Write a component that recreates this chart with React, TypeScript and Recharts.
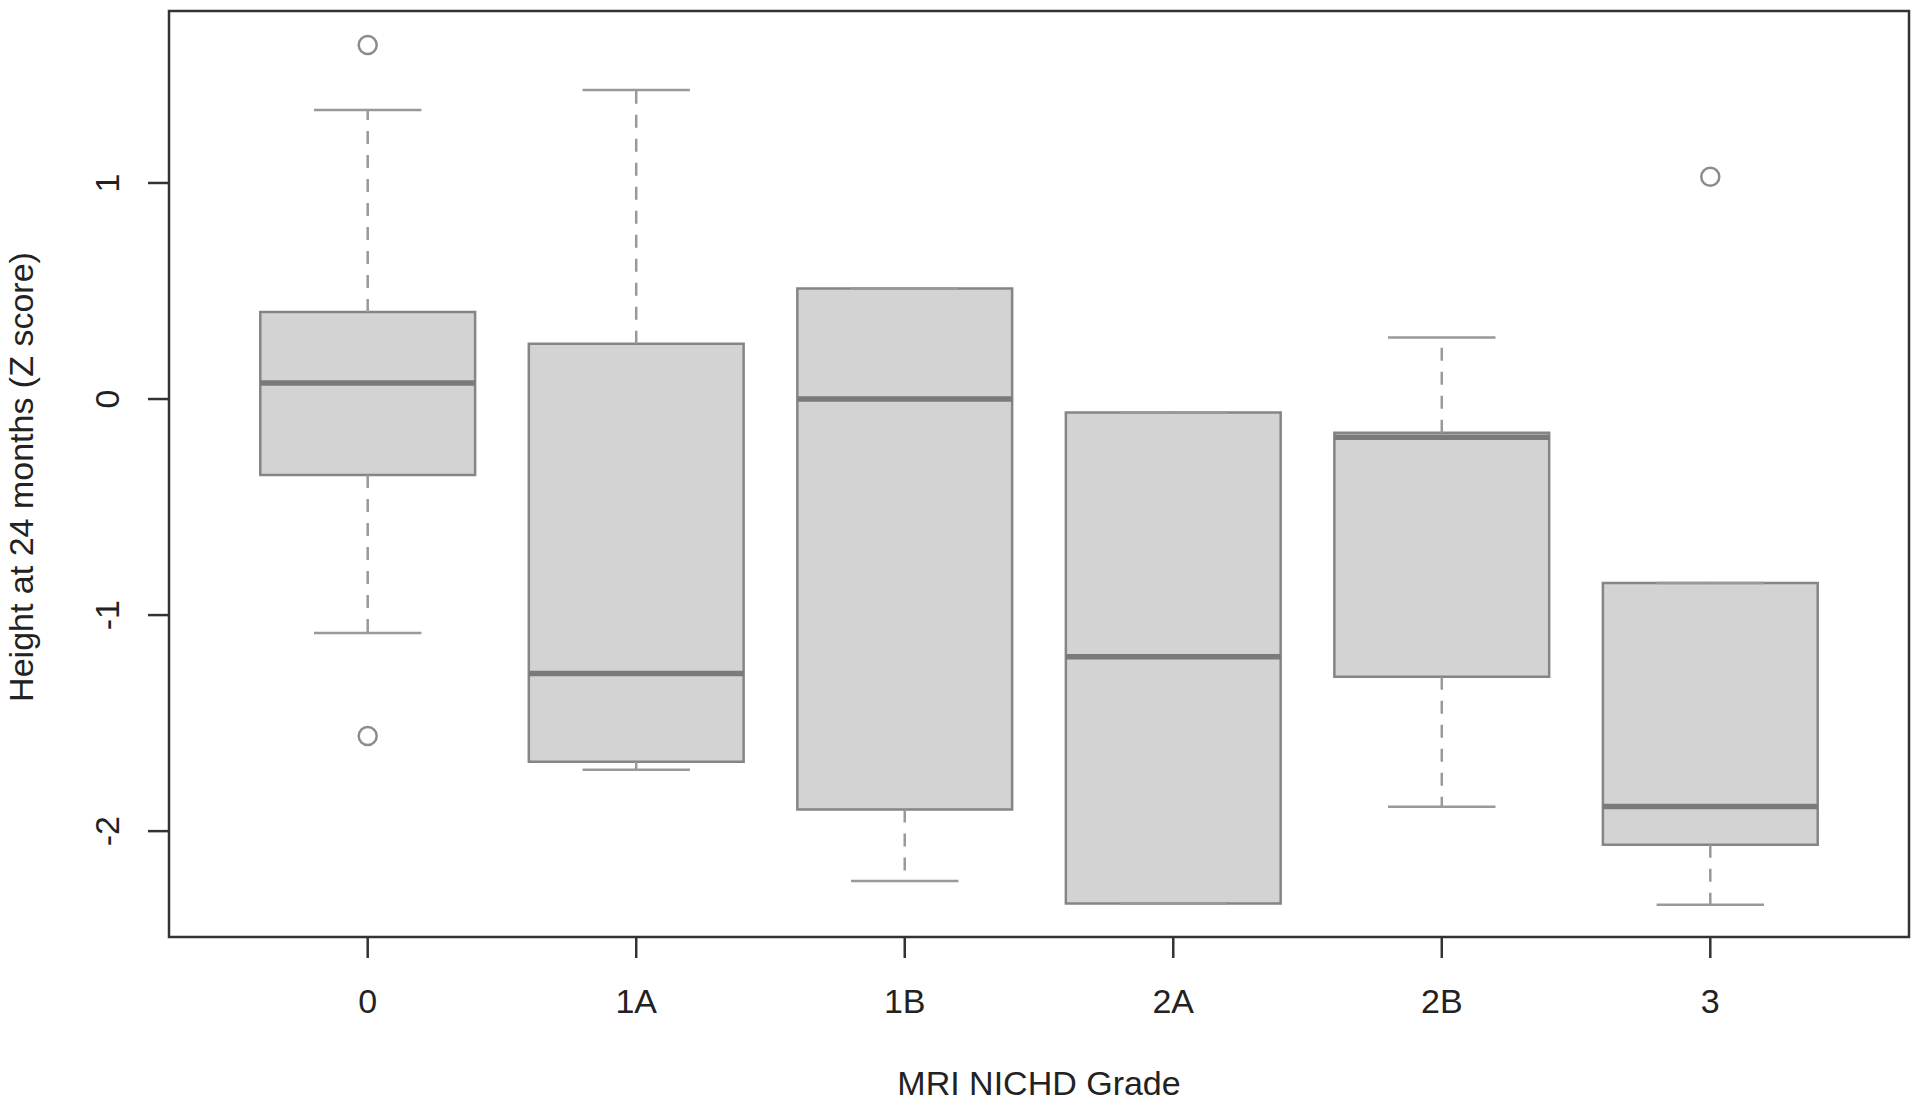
import React from "react";
import {
  ComposedChart,
  Scatter,
  XAxis,
  YAxis,
  ReferenceArea,
  ReferenceLine,
  Label,
} from "recharts";

const grades = ["0", "1A", "1B", "2A", "2B", "3"];
const whiskerHigh = [1.338, 1.43, 0.512, -0.062, 0.285, -0.852];
const upperQuartile = [0.403, 0.256, 0.512, -0.062, -0.156, -0.852];
const medians = [0.074, -1.27, 0.0, -1.193, -0.177, -1.886];
const lowerQuartile = [-0.352, -1.679, -1.9, -2.335, -1.286, -2.063];
const whiskerLow = [-1.083, -1.716, -2.231, -2.335, -1.887, -2.341];
const outlierGrades = ["0", "0", "3"];
const outlierValues = [1.639, -1.56, 1.029];
const yTicks = [-2, -1, 0, 1];

const FONT = '"Liberation Sans", Arial, Helvetica, sans-serif';
const BOX_HALF = 0.4;
const CAP_HALF = 0.2;

const outliers = outlierGrades.map((g, i) => ({
  x: grades.indexOf(g) + 1,
  y: outlierValues[i],
}));

const XTick = (props: any) => {
  const { x, y, payload } = props;
  return (
    <text x={x} y={y + 55} textAnchor="middle" fontSize={34} fontFamily={FONT} fill="#222">
      {grades[payload.value - 1]}
    </text>
  );
};

const YTick = (props: any) => {
  const { x, y, payload } = props;
  const tx = x - 29;
  return (
    <text
      x={tx}
      y={y}
      textAnchor="middle"
      fontSize={34}
      fontFamily={FONT}
      fill="#222"
      transform={`rotate(-90, ${tx}, ${y})`}
    >
      {payload.value}
    </text>
  );
};

const OutlierDot = (props: any) => (
  <circle cx={props.cx} cy={props.cy} r={9} fill="none" stroke="#8c8c8c" strokeWidth={2.5} />
);

export default function App() {
  return (
    <div style={{ position: "absolute", left: 0, top: 0, background: "#fff" }}>
      <ComposedChart
        width={1920}
        height={1112}
        data={outliers}
        margin={{ top: 11, right: 11, bottom: 0, left: 0 }}
      >
        <XAxis
          type="number"
          dataKey="x"
          domain={[0.26, 6.74]}
          allowDataOverflow
          ticks={[1, 2, 3, 4, 5, 6]}
          height={175}
          axisLine={false}
          tickSize={21}
          tickMargin={0}
          tickLine={{ stroke: "#333", strokeWidth: 2.5 }}
          tick={<XTick />}
        >
          <Label
            content={(p: any) => {
              const vb = p.viewBox;
              return (
                <text
                  x={vb.x + vb.width / 2}
                  y={vb.y + 158}
                  textAnchor="middle"
                  fontSize={34}
                  fontFamily={FONT}
                  fill="#222"
                >
                  MRI NICHD Grade
                </text>
              );
            }}
          />
        </XAxis>
        <YAxis
          type="number"
          dataKey="y"
          domain={[-2.49, 1.796]}
          allowDataOverflow
          ticks={yTicks}
          width={169}
          axisLine={false}
          tickSize={21}
          tickMargin={0}
          tickLine={{ stroke: "#333", strokeWidth: 2.5 }}
          tick={<YTick />}
        >
          <Label
            content={(p: any) => {
              const vb = p.viewBox;
              const tx = vb.x + 33;
              const ty = vb.y + vb.height / 2 + 3;
              return (
                <text
                  x={tx}
                  y={ty}
                  textAnchor="middle"
                  fontSize={34}
                  fontFamily={FONT}
                  fill="#222"
                  transform={`rotate(-90, ${tx}, ${ty})`}
                >
                  Height at 24 months (Z score)
                </text>
              );
            }}
          />
        </YAxis>

        {/* plot frame */}
        <ReferenceArea
          x1={0.26}
          x2={6.74}
          y1={-2.49}
          y2={1.796}
          fill="none"
          stroke="#333"
          strokeWidth={2.5}
          fillOpacity={0}
        />

        {grades.map((g, i) => (
          <ReferenceArea
            key={"box" + g}
            x1={i + 1 - BOX_HALF}
            x2={i + 1 + BOX_HALF}
            y1={lowerQuartile[i]}
            y2={upperQuartile[i]}
            fill="#d3d3d3"
            fillOpacity={1}
            stroke="#858585"
            strokeWidth={2.5}
          />
        ))}

        {grades.map((g, i) => (
          <ReferenceLine
            key={"wu" + g}
            segment={[
              { x: i + 1, y: upperQuartile[i] },
              { x: i + 1, y: whiskerHigh[i] },
            ]}
            stroke="#999"
            strokeWidth={2.5}
            strokeDasharray="13 11"
          />
        ))}
        {grades.map((g, i) => (
          <ReferenceLine
            key={"wl" + g}
            segment={[
              { x: i + 1, y: lowerQuartile[i] },
              { x: i + 1, y: whiskerLow[i] },
            ]}
            stroke="#999"
            strokeWidth={2.5}
            strokeDasharray="13 11"
          />
        ))}
        {grades.map((g, i) => (
          <ReferenceLine
            key={"cu" + g}
            segment={[
              { x: i + 1 - CAP_HALF, y: whiskerHigh[i] },
              { x: i + 1 + CAP_HALF, y: whiskerHigh[i] },
            ]}
            stroke="#999"
            strokeWidth={2.5}
          />
        ))}
        {grades.map((g, i) => (
          <ReferenceLine
            key={"cl" + g}
            segment={[
              { x: i + 1 - CAP_HALF, y: whiskerLow[i] },
              { x: i + 1 + CAP_HALF, y: whiskerLow[i] },
            ]}
            stroke="#999"
            strokeWidth={2.5}
          />
        ))}
        {grades.map((g, i) => (
          <ReferenceLine
            key={"md" + g}
            segment={[
              { x: i + 1 - BOX_HALF, y: medians[i] },
              { x: i + 1 + BOX_HALF, y: medians[i] },
            ]}
            stroke="#7a7a7a"
            strokeWidth={5.5}
          />
        ))}

        <Scatter
          dataKey="y"
          shape={<OutlierDot />}
          isAnimationActive={false}
        />
      </ComposedChart>
    </div>
  );
}
